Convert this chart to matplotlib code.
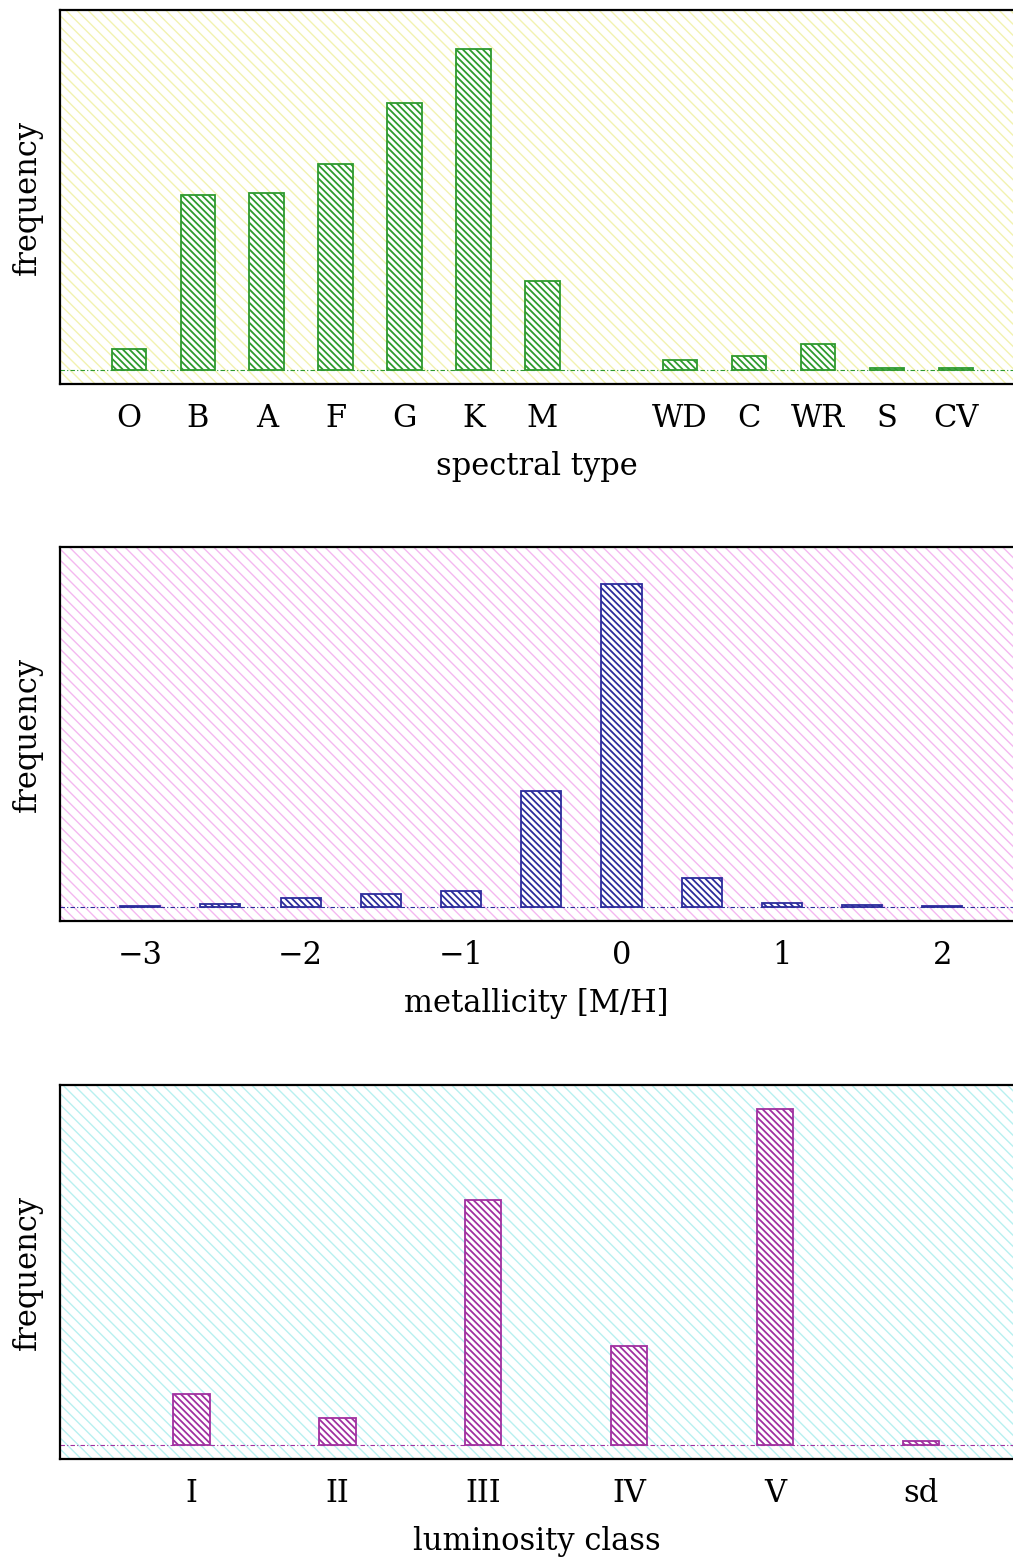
import numpy as np
import matplotlib
matplotlib.use('Agg')
import matplotlib.pyplot as plt
from matplotlib.patches import Rectangle

# spectral type panel
spec_labels = ['O', 'B', 'A', 'F', 'G', 'K', 'M', 'WD', 'C', 'WR', 'S', 'CV']
spec_pos = [1, 2, 3, 4, 5, 6, 7, 9, 10, 11, 12, 13]
spec_freq = [21, 176, 178, 207, 269, 323, 90, 10, 14, 26, 2, 2]

# metallicity panel
met_bins = [-3.0, -2.5, -2.0, -1.5, -1.0, -0.5, 0.0, 0.5, 1.0, 1.5, 2.0]
met_freq = [1, 3, 9, 13, 16, 117, 325, 29, 4, 2, 1]
met_ticks = [-3, -2, -1, 0, 1, 2]

# luminosity class panel
lum_labels = ['I', 'II', 'III', 'IV', 'V', 'sd']
lum_pos = [1, 2, 3, 4, 5, 6]
lum_freq = [51, 27, 246, 100, 338, 4]

plt.rcParams['font.family'] = 'DejaVu Serif'

fig = plt.figure(figsize=(10.13, 15.62), dpi=100)

panels = [
    dict(bottom=1 - 384 / 1562, x=spec_pos, y=spec_freq, width=0.5, xlim=(0, 13.83),
         ticks=spec_pos, ticklabels=spec_labels, xlabel='spectral type',
         bar='#2e9a2e', bg='#f2f2b0'),
    dict(bottom=1 - 921 / 1562, x=met_bins, y=met_freq, width=0.25, xlim=(-3.5, 2.44),
         ticks=met_ticks, ticklabels=[str(t).replace('-', '\u2212') for t in met_ticks],
         xlabel='metallicity [M/H]', bar='#2c2c9c', bg='#f4b8f0'),
    dict(bottom=1 - 1459 / 1562, x=lum_pos, y=lum_freq, width=0.25, xlim=(0.1, 6.63),
         ticks=lum_pos, ticklabels=lum_labels, xlabel='luminosity class',
         bar='#a030a0', bg='#b8f0f0'),
]

for p in panels:
    ax = fig.add_axes([60 / 1013, p['bottom'], 1 - 60 / 1013, 374 / 1562])
    # hatched background
    with plt.rc_context({'hatch.linewidth': 1.0}):
        ax.add_patch(Rectangle((0, 0), 1, 1, transform=ax.transAxes, facecolor='white',
                               edgecolor=p['bg'], hatch='\\\\\\', linewidth=0, zorder=0))
    with plt.rc_context({'hatch.linewidth': 1.3}):
        ax.bar(p['x'], p['y'], width=p['width'], facecolor='white', edgecolor=p['bar'],
               hatch='\\\\\\\\\\', linewidth=1.3, zorder=2)
    ax.axhline(0, color=p['bar'], linestyle=(0, (4, 2, 1, 2)), linewidth=0.8, zorder=1)
    ax.set_xlim(*p['xlim'])
    ax.set_ylim(-14, 362)
    ax.set_yticks([])
    ax.set_xticks(p['ticks'])
    ax.set_xticklabels(p['ticklabels'], fontsize=22)
    ax.tick_params(axis='x', length=0, pad=14)
    ax.set_xlabel(p['xlabel'], fontsize=22, labelpad=12)
    ax.set_ylabel('frequency', fontsize=22, labelpad=12)
    ax.spines['right'].set_visible(False)
    for s in ['left', 'bottom', 'top']:
        ax.spines[s].set_linewidth(1.6)

fig.savefig('out.png', dpi=100)
